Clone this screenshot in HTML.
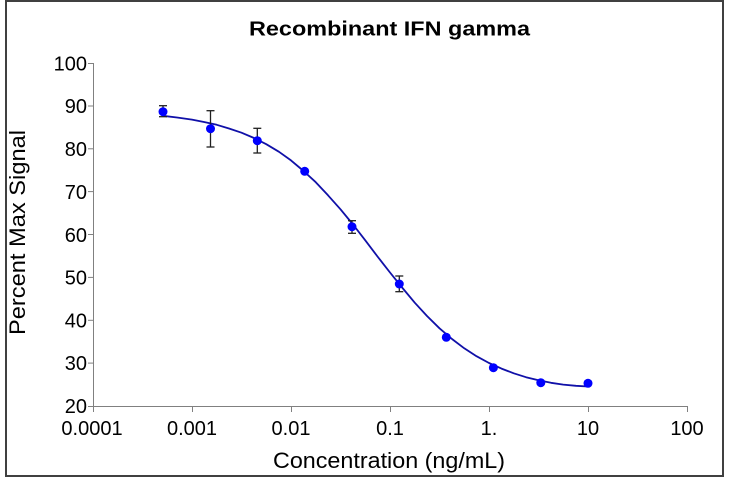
<!DOCTYPE html>
<html>
<head>
<meta charset="utf-8">
<style>
  html, body { margin: 0; padding: 0; background: #fff; }
  svg { display: block; }
  text { font-family: "Liberation Sans", Arial, sans-serif; fill: #000; }
</style>
</head>
<body>
<svg width="730" height="478" viewBox="0 0 730 478" xmlns="http://www.w3.org/2000/svg">
  <rect x="0" y="0" width="730" height="478" fill="#fff"/>
  <!-- outer border -->
  <rect x="6" y="1" width="717" height="475" fill="none" stroke="#404040" stroke-width="2"/>

  <!-- title -->
  <text x="389.5" y="35.5" font-size="20.5" font-weight="bold" text-anchor="middle" textLength="281" lengthAdjust="spacingAndGlyphs">Recombinant IFN gamma</text>

  <!-- axes -->
  <g stroke="#808080" stroke-width="1" fill="none">
    <line x1="93.5" y1="63" x2="93.5" y2="406"/>
    <line x1="93" y1="406.5" x2="687" y2="406.5"/>
    <!-- y ticks -->
    <line x1="88" y1="63.5" x2="93" y2="63.5"/>
    <line x1="88" y1="106" x2="93" y2="106"/>
    <line x1="88" y1="148.8" x2="93" y2="148.8"/>
    <line x1="88" y1="191.6" x2="93" y2="191.6"/>
    <line x1="88" y1="234.5" x2="93" y2="234.5"/>
    <line x1="88" y1="277.4" x2="93" y2="277.4"/>
    <line x1="88" y1="320.3" x2="93" y2="320.3"/>
    <line x1="88" y1="363.1" x2="93" y2="363.1"/>
    <line x1="88" y1="406.5" x2="93" y2="406.5"/>
    <!-- x ticks -->
    <line x1="93.5" y1="406" x2="93.5" y2="412"/>
    <line x1="192.5" y1="406" x2="192.5" y2="412"/>
    <line x1="291.5" y1="406" x2="291.5" y2="412"/>
    <line x1="390.5" y1="406" x2="390.5" y2="412"/>
    <line x1="489.5" y1="406" x2="489.5" y2="412"/>
    <line x1="588.5" y1="406" x2="588.5" y2="412"/>
    <line x1="687.5" y1="406" x2="687.5" y2="412"/>
  </g>

  <!-- y tick labels -->
  <g font-size="20" text-anchor="end">
    <text x="87" y="70.5">100</text>
    <text x="87" y="113">90</text>
    <text x="87" y="156">80</text>
    <text x="87" y="199">70</text>
    <text x="87" y="242">60</text>
    <text x="87" y="284.5">50</text>
    <text x="87" y="327.5">40</text>
    <text x="87" y="370">30</text>
    <text x="87" y="413">20</text>
  </g>

  <!-- x tick labels -->
  <g font-size="20" text-anchor="middle">
    <text x="92" y="435">0.0001</text>
    <text x="192" y="435">0.001</text>
    <text x="291" y="435">0.01</text>
    <text x="390" y="435">0.1</text>
    <text x="489" y="435">1.</text>
    <text x="588" y="435">10</text>
    <text x="687" y="435">100</text>
  </g>

  <!-- axis titles -->
  <text x="389" y="468" font-size="22" text-anchor="middle" textLength="232" lengthAdjust="spacingAndGlyphs">Concentration (ng/mL)</text>
  <text transform="translate(25,232.5) rotate(-90)" x="0" y="0" font-size="22" text-anchor="middle" textLength="205" lengthAdjust="spacingAndGlyphs">Percent Max Signal</text>

  <!-- fitted curve -->
  <polyline fill="none" stroke="#1010a8" stroke-width="1.8" stroke-linejoin="round"
    points="162.9,115.8 177,117.5 192,119.6 204,122 216.75,124.8 229,128.5 241.5,132.7 254,138 266.25,144.2 279,151.8 291,160.4 303,170.5 315.75,182.2 328,195.3 340.5,209.3 353,224.5 365.25,240.3 377.5,256.5 390,272.5 402.5,288 414.75,302.7 427,316 439.5,328.3 452,339 464.25,348.3 476.5,356.2 489,363 501.5,368.6 513.75,373.3 526,377.2 538.5,380.3 551,382.8 563.25,384.6 576,385.8 588,386.5"/>

  <!-- error bars -->
  <g stroke="#202020" stroke-width="1.3" fill="none">
    <line x1="163" y1="105.7" x2="163" y2="116.7"/>
    <line x1="159" y1="105.7" x2="167" y2="105.7"/>
    <line x1="159" y1="116.7" x2="167" y2="116.7"/>

    <line x1="210.5" y1="110.7" x2="210.5" y2="147"/>
    <line x1="206.5" y1="110.7" x2="214.5" y2="110.7"/>
    <line x1="206.5" y1="147" x2="214.5" y2="147"/>

    <line x1="257.3" y1="128.3" x2="257.3" y2="153"/>
    <line x1="253.3" y1="128.3" x2="261.3" y2="128.3"/>
    <line x1="253.3" y1="153" x2="261.3" y2="153"/>

    <line x1="352" y1="220.7" x2="352" y2="233.3"/>
    <line x1="348" y1="220.7" x2="356" y2="220.7"/>
    <line x1="348" y1="233.3" x2="356" y2="233.3"/>

    <line x1="399.3" y1="276" x2="399.3" y2="291.7"/>
    <line x1="395.3" y1="276" x2="403.3" y2="276"/>
    <line x1="395.3" y1="291.7" x2="403.3" y2="291.7"/>
  </g>

  <!-- data points -->
  <g fill="#0000ff">
    <circle cx="163" cy="111.7" r="4.5"/>
    <circle cx="210.5" cy="128.7" r="4.5"/>
    <circle cx="257.3" cy="140.7" r="4.5"/>
    <circle cx="304.7" cy="171.3" r="4.5"/>
    <circle cx="352" cy="226.7" r="4.5"/>
    <circle cx="399.3" cy="284" r="4.5"/>
    <circle cx="446.3" cy="337.3" r="4.5"/>
    <circle cx="493.4" cy="367.7" r="4.5"/>
    <circle cx="540.8" cy="382.7" r="4.5"/>
    <circle cx="588" cy="383.3" r="4.5"/>
  </g>
</svg>
</body>
</html>
